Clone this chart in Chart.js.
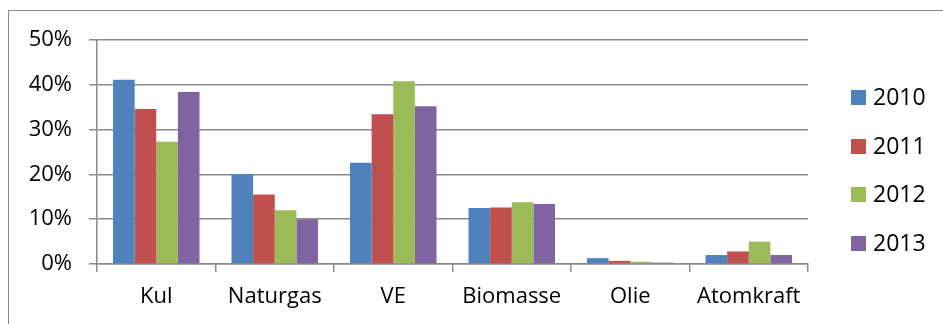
<!DOCTYPE html>
<html>
<head>
<meta charset="utf-8">
<script src="https://cdn.jsdelivr.net/npm/chart.js@4.4.1/dist/chart.umd.min.js"></script>
<style>
  html, body { margin: 0; padding: 0; background: #fff; overflow: hidden; }
  #wrap { position: relative; width: 943px; height: 324px; }
  #frame { position: absolute; left: 8px; top: 10px; width: 960px; height: 340px;
           border: 1.5px solid #8a8a8a; box-sizing: border-box; }
  canvas { position: absolute; left: 0; top: 0; }
  #legend { position: absolute; left: 851px; top: 80px; font-family: "Open Sans", sans-serif; font-size: 23px; line-height: 32px; color: #000; }
  .item { height: 48.5px; display: flex; align-items: flex-start; }
  .sw { width: 15px; height: 15px; margin-top: 10px; margin-right: 7px; }
</style>
</head>
<body>
<div id="wrap">
  <div id="frame"></div>
  <canvas id="chart" width="943" height="324"></canvas>
  <div id="legend"></div>
</div>
<script>
// categories and series (shares of total)
const categories = ['Kul', 'Naturgas', 'VE', 'Biomasse', 'Olie', 'Atomkraft'];
const years = ['2010', '2011', '2012', '2013'];
const values2010 = [0.411, 0.201, 0.226, 0.125, 0.013, 0.020];
const values2011 = [0.346, 0.155, 0.334, 0.126, 0.007, 0.028];
const values2012 = [0.273, 0.120, 0.408, 0.138, 0.005, 0.050];
const values2013 = [0.384, 0.100, 0.352, 0.134, 0.003, 0.020];
const yTicks = [0, 0.1, 0.2, 0.3, 0.4, 0.5];
const colors = ['#4F81BD', '#C0504D', '#9BBB59', '#8064A2'];

const series = [values2010, values2011, values2012, values2013];
const gridColor = '#8a8a8a';
const font = { family: '"Open Sans", sans-serif', size: 22 };

const chart = new Chart(document.getElementById('chart'), {
  type: 'bar',
  data: {
    labels: categories,
    datasets: series.map((vals, i) => ({
      label: years[i],
      data: vals,
      backgroundColor: colors[i],
      borderWidth: 0,
      categoryPercentage: 0.73,
      barPercentage: 1
    }))
  },
  options: {
    responsive: false,
    animation: false,
    layout: { padding: { left: 8, top: 40, right: 135, bottom: 0 } },
    plugins: { legend: { display: false }, tooltip: { enabled: false } },
    scales: {
      x: {
        grid: { offset: true, drawOnChartArea: false, color: gridColor, lineWidth: 1.5, tickLength: 8 },
        border: { color: gridColor, width: 1.5 },
        ticks: { color: '#000', font: font, padding: 12 },
        afterFit: (s) => { s.height = 60; }
      },
      y: {
        min: 0,
        max: 0.5,
        afterBuildTicks: (s) => { s.ticks = yTicks.map(v => ({ value: v })); },
        grid: { color: gridColor, lineWidth: 1.5, tickLength: 8 },
        border: { color: gridColor, width: 1.5 },
        ticks: { color: '#000', font: font, padding: 17, callback: (v) => Math.round(v * 100) + '%' },
        afterFit: (s) => { s.width = 89; }
      }
    }
  }
});

// legend as text
const legend = document.getElementById('legend');
chart.data.datasets.forEach(ds => {
  const item = document.createElement('div');
  item.className = 'item';
  const sw = document.createElement('div');
  sw.className = 'sw';
  sw.style.background = ds.backgroundColor;
  const label = document.createElement('span');
  label.textContent = ds.label;
  item.appendChild(sw);
  item.appendChild(label);
  legend.appendChild(item);
});
</script>
</body>
</html>
